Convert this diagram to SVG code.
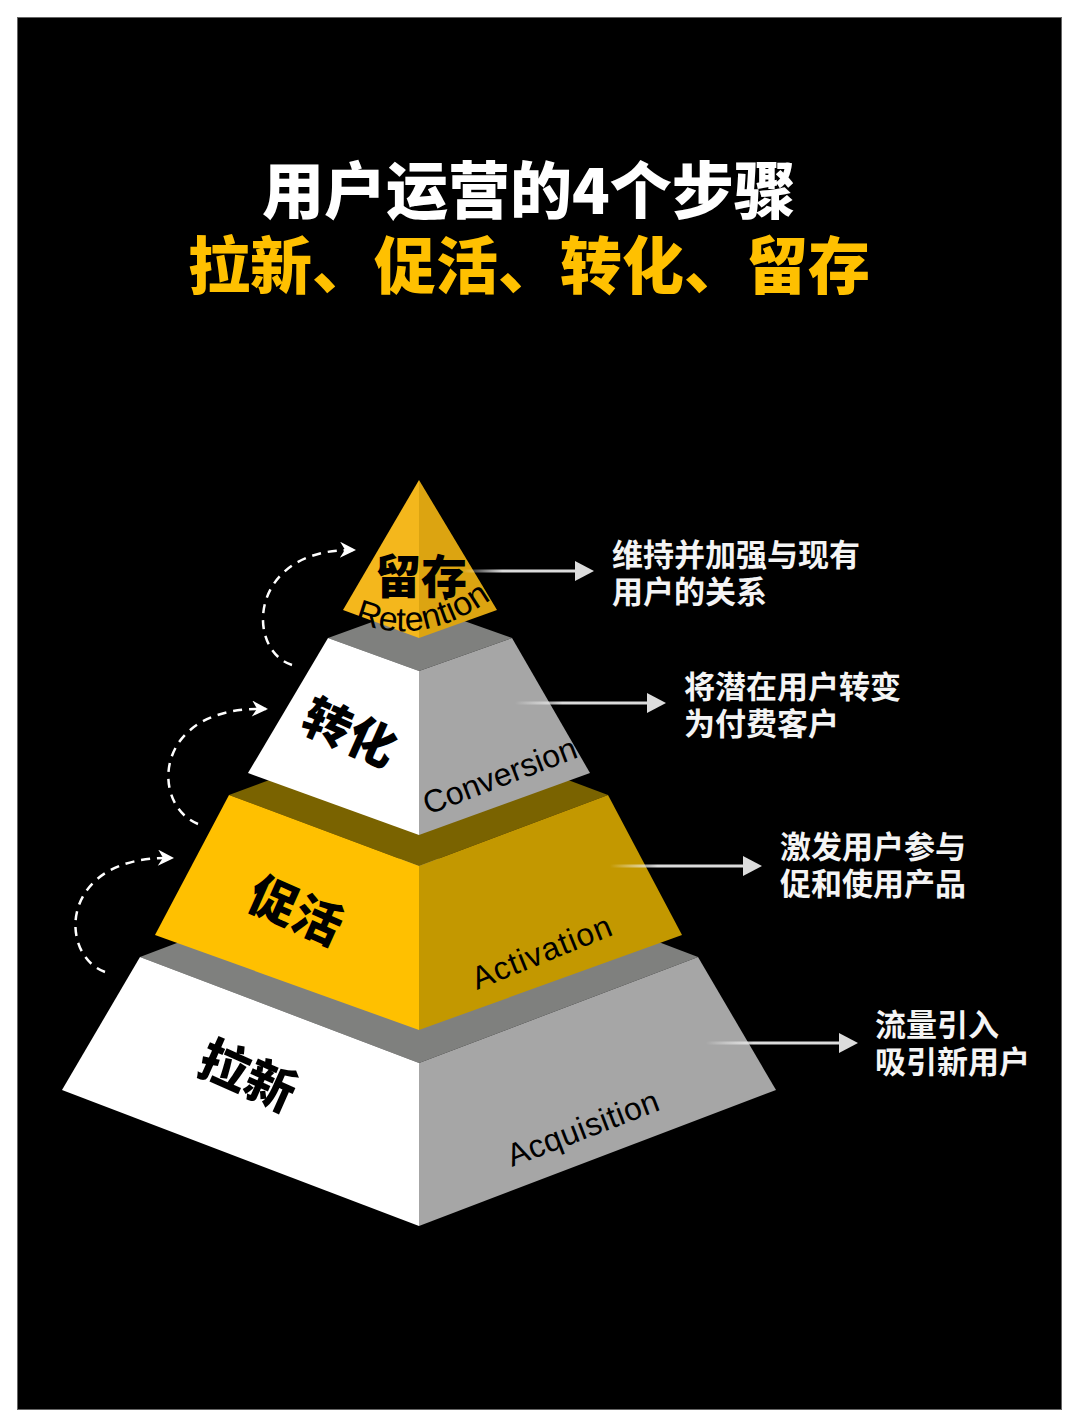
<svg xmlns="http://www.w3.org/2000/svg" width="1080" height="1428" viewBox="0 0 1080 1428">
<defs>
<style>
.cjk{font-family:"Noto Sans CJK SC","Noto Sans",sans-serif;}
.title{font-size:62px;font-weight:900;text-anchor:middle;}
.lbl{font-size:48px;font-weight:900;fill:#000;text-anchor:middle;}
.en{font-family:"Liberation Sans",Arial,sans-serif;font-size:32px;fill:#000;}
.note{font-size:31px;font-weight:700;fill:#F4F4F4;}
.dash{fill:none;stroke:#fff;stroke-width:2.5;stroke-dasharray:9 7;marker-end:url(#chev);}
.ah{fill:#DCDCDC;}
.wf{fill:#fff;}
.gr{fill:#A6A6A6;}
.gt{fill:#7F807E;}
</style>
<marker id="chev" markerUnits="userSpaceOnUse" markerWidth="20" markerHeight="18" refX="15" refY="8" orient="auto">
<path d="M1,0 L17,8 L1,16 L6,8 Z" fill="#fff"/>
</marker>
<linearGradient id="fade" x1="0" y1="0" x2="1" y2="0">
<stop offset="0" stop-color="#fff" stop-opacity="0"/>
<stop offset="0.35" stop-color="#E6E6E6" stop-opacity="0.95"/>
<stop offset="1" stop-color="#DCDCDC"/>
</linearGradient>
<path id="retPath" d="M 340 614 Q 418 658 504 590"/>
</defs>
<rect x="0" y="0" width="1080" height="1428" fill="#fff"/>
<rect x="17.5" y="17.5" width="1044" height="1392" fill="#000" stroke="#666" stroke-width="1"/>

<g id="title" class="cjk">
<text class="title" x="529" y="214" fill="#fff">用户运营的4个步骤</text>
<text class="title" x="529" y="289" fill="#FFC000">拉新、促活、转化、留存</text>
</g>

<g id="node-acquisition">
<polygon class="gt" points="140,957 419,851 698,957 419,1063"/>
<polygon class="wf" points="140,957 419,1063 419,1226 62,1090"/>
<polygon class="gr" points="419,1063 698,957 776,1090 419,1226"/>
<text class="cjk lbl" x="248" y="1094" style="font-size:50px" transform="rotate(24 248 1075)">拉新</text>
<text class="en" x="512" y="1167" textLength="160" transform="rotate(-21 512 1167)">Acquisition</text>
</g>

<g id="node-activation">
<polygon fill="#7A6300" points="229,795 419,724 608,795 419,866"/>
<polygon fill="#FFC000" points="229,795 419,866 419,1030 155,935"/>
<polygon fill="#C39800" points="419,866 608,795 682,935 419,1030"/>
<text class="cjk lbl" x="296" y="928" transform="rotate(24 296 910)">促活</text>
<text class="en" x="477" y="990" textLength="148" transform="rotate(-22 477 990)">Activation</text>
</g>

<g id="node-conversion">
<polygon class="gt" points="328,638 419,605 512,638 419,671"/>
<polygon class="wf" points="328,638 419,671 419,835 248,773"/>
<polygon class="gr" points="419,671 512,638 590,773 419,835"/>
<text class="cjk lbl" x="350" y="750" transform="rotate(24 350 732)">转化</text>
<text class="en" x="428" y="815" textLength="162" transform="rotate(-21 428 815)">Conversion</text>
</g>

<g id="node-retention">
<polygon fill="#F4B71C" points="419,480 343,610 419,638"/>
<polygon fill="#DCA411" points="419,480 419,638 497,610"/>
<text class="cjk lbl" x="421" y="593" style="font-size:46px">留存</text>
<text class="en" style="font-size:34px"><textPath href="#retPath" startOffset="50%" text-anchor="middle">Retention</textPath></text>
</g>

<g id="note-retention" class="cjk note">
<text x="612" y="566">维持并加强与现有</text>
<text x="612" y="603">用户的关系</text>
</g>
<g id="note-conversion" class="cjk note">
<text x="684" y="698">将潜在用户转变</text>
<text x="684" y="735">为付费客户</text>
</g>
<g id="note-activation" class="cjk note">
<text x="780" y="858">激发用户参与</text>
<text x="780" y="895">促和使用产品</text>
</g>
<g id="note-acquisition" class="cjk note">
<text x="875" y="1036">流量引入</text>
<text x="875" y="1073">吸引新用户</text>
</g>

<g id="connectors">
<path class="dash" d="M 292 665 C 245 650, 248 548, 354 550"/>
<path class="dash" d="M 198 824 C 150 805, 152 705, 266 709"/>
<path class="dash" d="M 105 972 C 58 955, 58 855, 172 858"/>
<rect x="462" y="569.5" width="116" height="3" fill="url(#fade)"/>
<polygon class="ah" points="575,561 594,571 575,581"/>
<rect x="515" y="701.5" width="135" height="3" fill="url(#fade)"/>
<polygon class="ah" points="647,693 666,703 647,713"/>
<rect x="610" y="864.5" width="136" height="3" fill="url(#fade)"/>
<polygon class="ah" points="743,856 762,866 743,876"/>
<rect x="706" y="1041.5" width="136" height="3" fill="url(#fade)"/>
<polygon class="ah" points="839,1033 858,1043 839,1053"/>
</g>
</svg>
